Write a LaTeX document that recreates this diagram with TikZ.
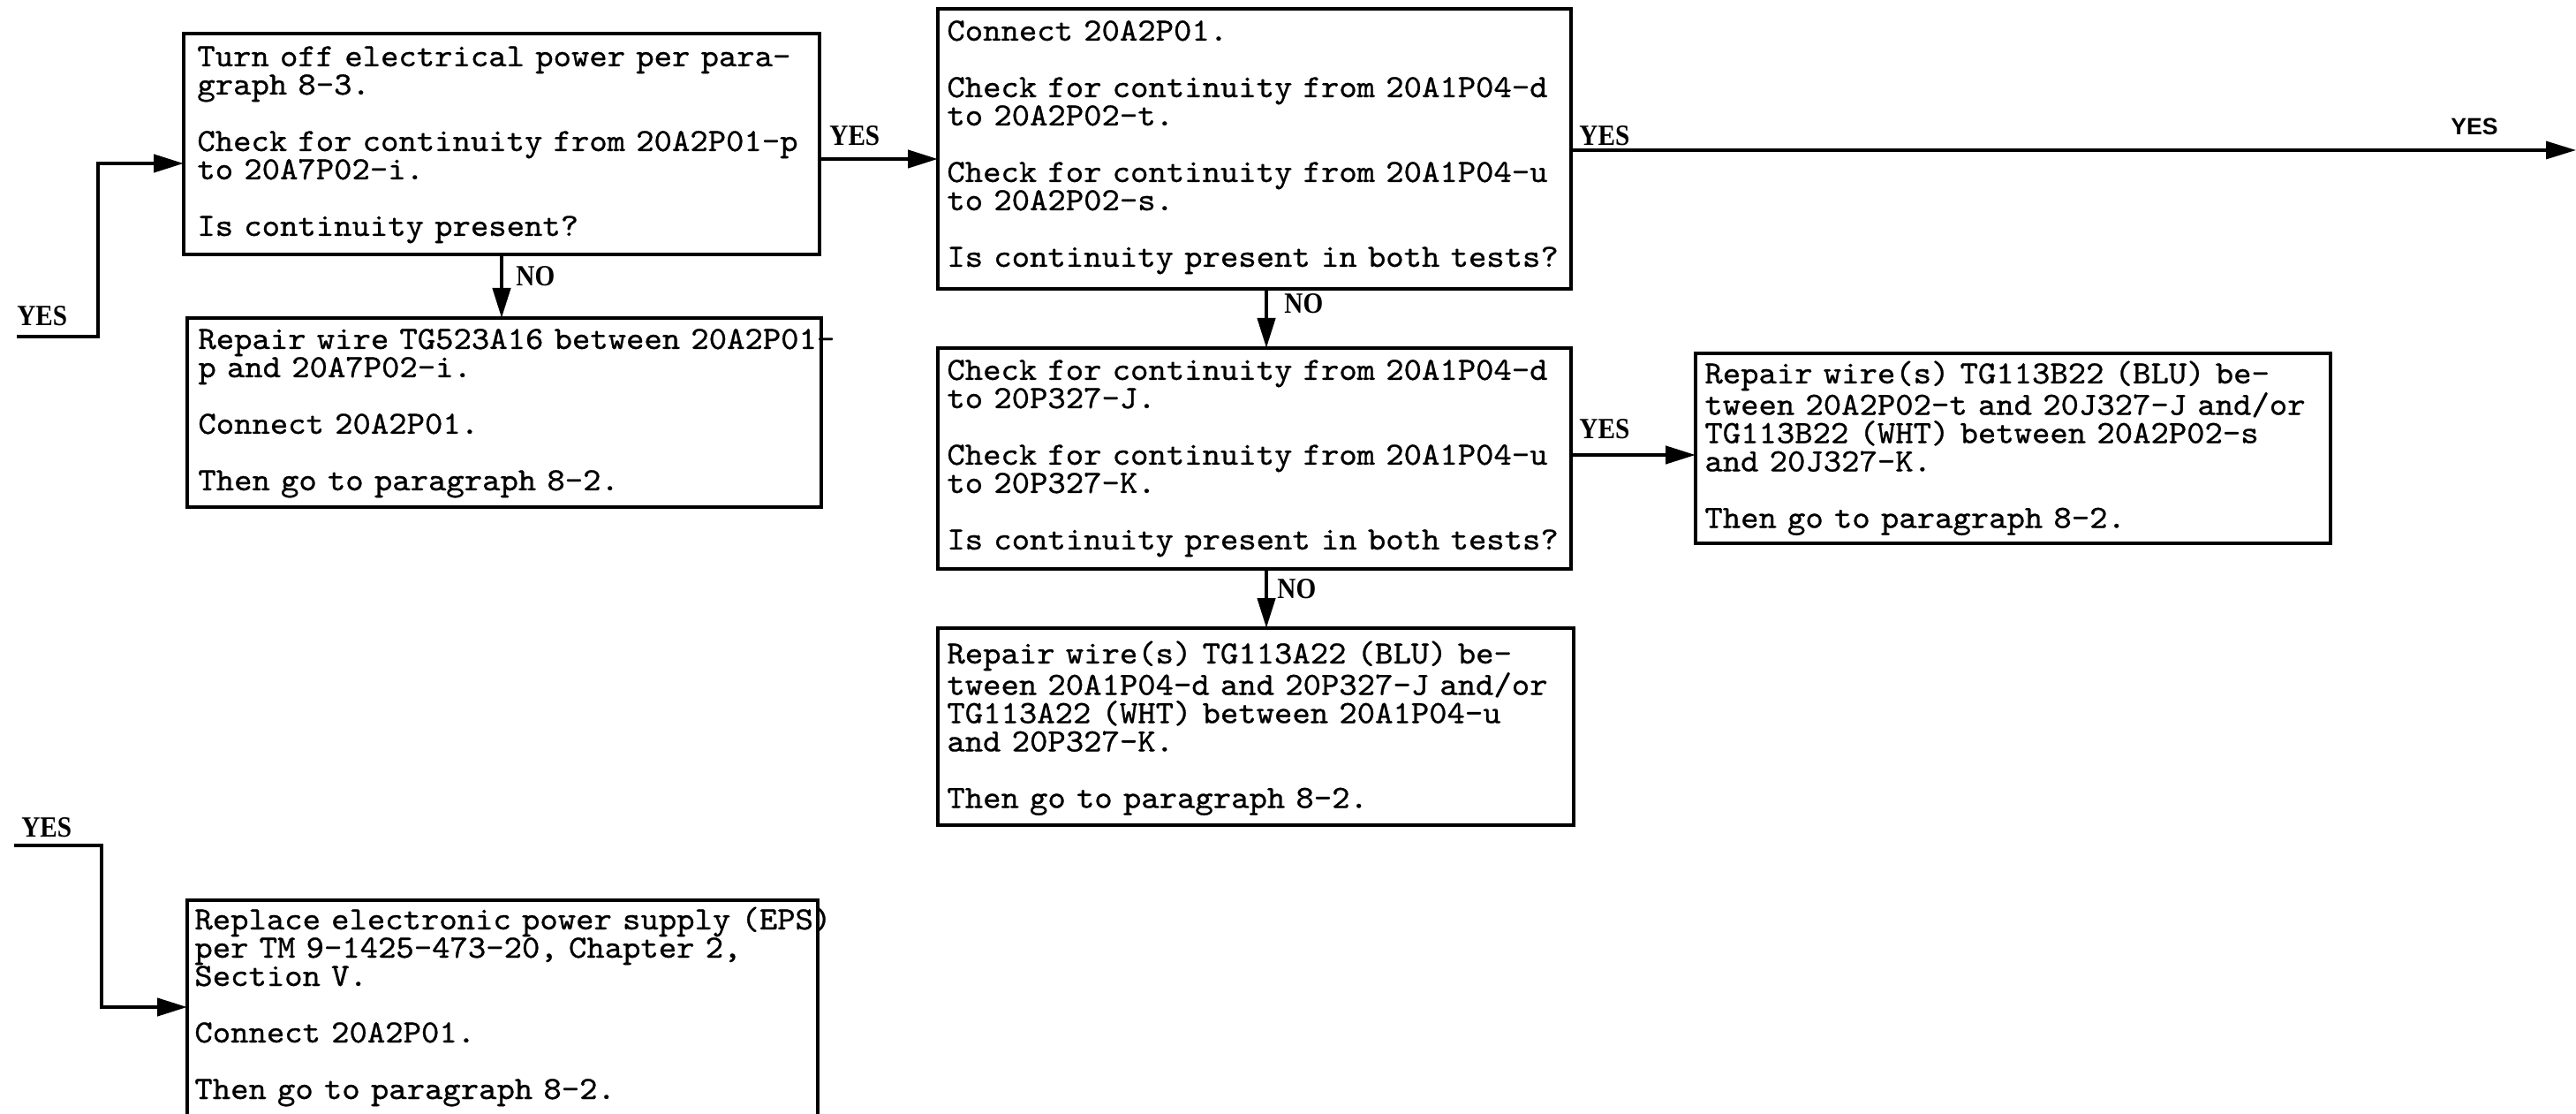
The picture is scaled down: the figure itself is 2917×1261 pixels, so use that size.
\documentclass[tikz,border=0pt]{standalone}
\usepackage{fontspec}
\usepackage{graphicx}
\newfontfamily\labserif{Liberation Serif}
\newfontfamily\labsans{Liberation Sans}
\newfontfamily\typew{lmmono10-regular.otf}[FakeBold=0.8,FakeStretch=1.06]
\usetikzlibrary{arrows.meta}
\newcommand{\lbl}[1]{\scalebox{0.88}[1]{\labserif\bfseries\fontsize{16.6pt}{16pt}\selectfont #1}}
\begin{document}
\lineskiplimit=-30pt\relax
\begin{tikzpicture}[x=0.5pt,y=-0.5pt,
  box/.style={draw,line width=1.8pt,rectangle,anchor=north west,inner sep=0pt,outer sep=0pt},
  txt/.style={anchor=base west,inner sep=0pt,text width=430pt,align=left,
    font=\typew\fontsize{18.3pt}{16pt}\selectfont},
  conn/.style={line width=2.2pt,-{Triangle[length=17pt,width=10pt]}},
  lab/.style={inner sep=0pt,anchor=base west}]
\fill[white] (0,0) rectangle (2917,1261);
\useasboundingbox (0,0) rectangle (2917,1261);

% boxes
\node[box,minimum width=360pt,minimum height=125pt] (b1) at (208,38) {};
\node[box,minimum width=359pt,minimum height=107pt] (b2) at (212,360) {};
\node[box,minimum width=358.5pt,minimum height=158.5pt] (b3) at (1062,10) {};
\node[box,minimum width=358.5pt,minimum height=125pt] (b4) at (1062,394) {};
\node[box,minimum width=360pt,minimum height=111.5pt] (b5) at (1062,711) {};
\node[box,minimum width=359.5pt,minimum height=107.5pt] (b6) at (1920,400) {};
\node[box,minimum width=357pt,minimum height=140pt] (b7) at (212,1019) {};

% texts
\node[txt] (t1) at (223,75) {Turn off electrical power per para-\\graph 8-3.\\[16pt]Check for continuity from 20A2P01-p\\to 20A7P02-i.\\[16pt]Is continuity present?};
\node[txt] (t2) at (224,395) {Repair wire TG523A16 between 20A2P01-\\p and 20A7P02-i.\\[16pt]Connect 20A2P01.\\[16pt]Then go to paragraph 8-2.};
\node[txt] (t3) at (1072,46) {Connect 20A2P01.\\[16pt]Check for continuity from 20A1P04-d\\to 20A2P02-t.\\[16pt]Check for continuity from 20A1P04-u\\to 20A2P02-s.\\[16pt]Is continuity present in both tests?};
\node[txt] (t4) at (1072,430) {Check for continuity from 20A1P04-d\\to 20P327-J.\\[16pt]Check for continuity from 20A1P04-u\\to 20P327-K.\\[16pt]Is continuity present in both tests?};
\node[txt] (t5) at (1072,751) {Repair wire(s) TG113A22 (BLU) be-\\tween 20A1P04-d and 20P327-J and/or\\TG113A22 (WHT) between 20A1P04-u\\and 20P327-K.\\[16pt]Then go to paragraph 8-2.};
\node[txt] (t6) at (1930,434) {Repair wire(s) TG113B22 (BLU) be-\\tween 20A2P02-t and 20J327-J and/or\\TG113B22 (WHT) between 20A2P02-s\\and 20J327-K.\\[16pt]Then go to paragraph 8-2.};
\node[txt] (t7) at (220,1052) {Replace electronic power supply (EPS)\\per TM 9-1425-473-20, Chapter 2,\\Section V.\\[16pt]Connect 20A2P01.\\[16pt]Then go to paragraph 8-2.};

% helper coordinates
\coordinate (s1) at (19,381);
\coordinate (k1) at (111,185);
\coordinate (r1) at (0,180);
\coordinate (n1) at (568,0);
\coordinate (n2) at (1434,0);
\coordinate (e1) at (2917,170);
\coordinate (r2) at (0,515);
\coordinate (s2) at (16,957);
\coordinate (k2) at (115,1140);

% connectors
\draw[conn] (s1) -| (k1) -- (b1.west |- k1);
\draw[conn] (b1.east |- r1) -- (b3.west |- r1);
\draw[conn] (b1.south -| n1) -- (b2.north -| n1);
\draw[conn] (b3.south -| n2) -- (b4.north -| n2);
\draw[conn] (b4.south -| n2) -- (b5.north -| n2);
\draw[conn,line width=1.6pt] (b3.east |- e1) -- (e1);
\draw[conn] (b4.east |- r2) -- (b6.west |- r2);
\draw[conn] (s2) -| (k2) -- (b7.west |- k2);

% labels
\node[lab] (l1) at (19,369) {\lbl{YES}};
\node[lab] (l2) at (939,165) {\lbl{YES}};
\node[lab] (l3) at (584,324) {\lbl{NO}};
\node[lab] (l4) at (1788,165) {\lbl{YES}};
\node[lab] (l5) at (1454,355) {\lbl{NO}};
\node[lab] (l6) at (1788,497) {\lbl{YES}};
\node[lab] (l7) at (1446,677) {\lbl{NO}};
\node[lab] (l8) at (24,947) {\lbl{YES}};
\node[lab] (l9) at (2775,153) {\labsans\bfseries\fontsize{13.3pt}{14pt}\selectfont YES};
\end{tikzpicture}
\end{document}
